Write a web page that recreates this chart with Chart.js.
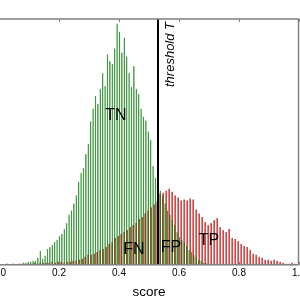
<!DOCTYPE html>
<html>
<head>
<meta charset="utf-8">
<script src="https://cdn.jsdelivr.net/npm/chart.js@4.4.1/dist/chart.umd.min.js"></script>
<style>
  html, body { margin: 0; padding: 0; background: #fff; overflow: hidden; }
  #wrap { position: absolute; left: -30px; top: 0; width: 360px; height: 300px; }
</style>
</head>
<body>
<div id="wrap"><canvas id="myChart"></canvas></div>
<script>
// histogram bin widths (score units)
const GREEN_BIN = 0.008;
const RED_BIN = 0.01;
const THRESHOLD = 0.53;

// negatives (green), counts per bin starting at 0
const greenCounts = [
  0, 0, 0, 1, 0, 0, 1, 0, 1, 1,
  2, 2, 3, 3, 4, 4, 7, 14, 6, 9,
  16, 18, 20, 23, 25, 29, 31, 36, 42, 51,
  55, 62, 70, 84, 93, 98, 112, 122, 145, 158,
  171, 163, 178, 194, 181, 213, 206, 203, 219, 244,
  236, 215, 230, 211, 194, 180, 201, 178, 173, 158,
  150, 146, 135, 126, 100, 88, 83, 75, 70, 62,
  55, 51, 45, 40, 33, 28, 25, 22, 19, 15,
  13, 10, 8, 5, 4, 2, 2, 1, 1, 0
];

// positives (red), counts per bin starting at 0
const redCounts = [
  0, 0, 1, 0, 1, 0, 1, 1, 1, 1,
  1, 2, 1, 2, 2, 2, 2, 3, 2, 3,
  3, 2, 3, 3, 4, 4, 5, 6, 8, 10,
  10, 11, 13, 15, 16, 18, 21, 23, 27, 29,
  31, 33, 35, 38, 40, 42, 46, 48, 52, 55,
  58, 61, 64, 72, 73, 75, 77, 74, 70, 68,
  65, 66, 65, 67, 66, 56, 52, 48, 43, 40,
  42, 45, 47, 38, 35, 33, 36, 27, 26, 24,
  21, 19, 18, 15, 11, 10, 8, 7, 5, 5,
  4, 5, 4, 3, 2, 1, 1, 2, 1, 0
];

const xTicks = [0, 0.2, 0.4, 0.6, 0.8, 1.0];

// region labels, placed in data units
const regionLabels = [
  { text: 'TN', x: 0.39, y: 151 },
  { text: 'FN', x: 0.45, y: 15 },
  { text: 'FP', x: 0.573, y: 17 },
  { text: 'TP', x: 0.70, y: 25 }
];
const thresholdText = { text: 'threshold T', x: 0.572, y: 246 };

function toPoints(counts, bin) {
  return counts.map((c, i) => ({ x: (i + 0.5) * bin, y: c }));
}

const overlayPlugin = {
  id: 'overlay',
  afterDatasetsDraw(chart) {
    const ctx = chart.ctx;
    const area = chart.chartArea;
    const xs = chart.scales.x;
    const ys = chart.scales.y;
    ctx.save();

    // threshold line
    const tx = xs.getPixelForValue(THRESHOLD);
    ctx.strokeStyle = '#000';
    ctx.lineWidth = 2;
    ctx.beginPath();
    ctx.moveTo(tx, area.top);
    ctx.lineTo(tx, area.bottom);
    ctx.stroke();

    // TN / FN / FP / TP
    ctx.fillStyle = '#000';
    ctx.font = '16px "Liberation Sans"';
    ctx.textAlign = 'center';
    ctx.textBaseline = 'middle';
    regionLabels.forEach(l => {
      ctx.fillText(l.text, xs.getPixelForValue(l.x), ys.getPixelForValue(l.y));
    });

    // frame and inward ticks
    ctx.strokeStyle = '#808080';
    ctx.lineWidth = 1.5;
    ctx.strokeRect(area.left, area.top, area.right - area.left - 0.5, area.bottom - area.top);
    ctx.lineWidth = 1;
    xTicks.forEach(v => {
      const px = Math.round(xs.getPixelForValue(v)) + 0.5;
      ctx.beginPath();
      ctx.moveTo(px, area.top);
      ctx.lineTo(px, area.top + 3);
      ctx.moveTo(px, area.bottom);
      ctx.lineTo(px, area.bottom - 3);
      ctx.stroke();
    });

    // rotated threshold label
    ctx.translate(xs.getPixelForValue(thresholdText.x), ys.getPixelForValue(thresholdText.y));
    ctx.rotate(-Math.PI / 2);
    ctx.font = 'italic 13px "Liberation Sans"';
    ctx.textAlign = 'right';
    ctx.fillText(thresholdText.text, 0, 0);
    ctx.restore();
  }
};

Chart.defaults.font.family = '"Liberation Sans", Arial, sans-serif';
Chart.defaults.color = '#000';

const ctx = document.getElementById('myChart').getContext('2d');
const myChart = new Chart(ctx, {
  type: 'bar',
  data: {
    datasets: [
      {
        label: 'negatives',
        data: toPoints(greenCounts, GREEN_BIN),
        xAxisID: 'xg',
        backgroundColor: 'rgba(0, 140, 0, 0.58)',
        borderColor: 'rgba(0, 90, 0, 0.6)',
        borderWidth: { top: 1, left: 1, right: 0, bottom: 0 },
        barPercentage: 1,
        categoryPercentage: 1
      },
      {
        label: 'positives',
        data: toPoints(redCounts, RED_BIN),
        xAxisID: 'x',
        backgroundColor: 'rgba(235, 0, 0, 0.62)',
        borderColor: 'rgba(150, 0, 0, 0.6)',
        borderWidth: { top: 1, left: 1, right: 0, bottom: 0 },
        barPercentage: 1,
        categoryPercentage: 1
      }
    ]
  },
  options: {
    responsive: true,
    maintainAspectRatio: false,
    animation: false,
    layout: { padding: { left: 29, right: 31, top: 19, bottom: 0 } },
    plugins: {
      legend: { display: false },
      tooltip: { enabled: false }
    },
    scales: {
      x: {
        type: 'linear',
        min: 0,
        max: 1,
        offset: false,
        grid: { display: false, drawTicks: false },
        border: { display: false },
        ticks: {
          stepSize: 0.2,
          padding: 2,
          font: { size: 10 },
          callback: v => v.toFixed(1)
        },
        title: {
          display: true,
          text: 'score',
          font: { size: 13.5 },
          padding: { top: 3, bottom: 0 }
        }
      },
      xg: {
        type: 'linear',
        min: 0,
        max: 1,
        offset: false,
        display: false
      },
      y: {
        min: 0,
        max: 249,
        display: false
      }
    }
  },
  plugins: [overlayPlugin]
});
</script>
</body>
</html>
